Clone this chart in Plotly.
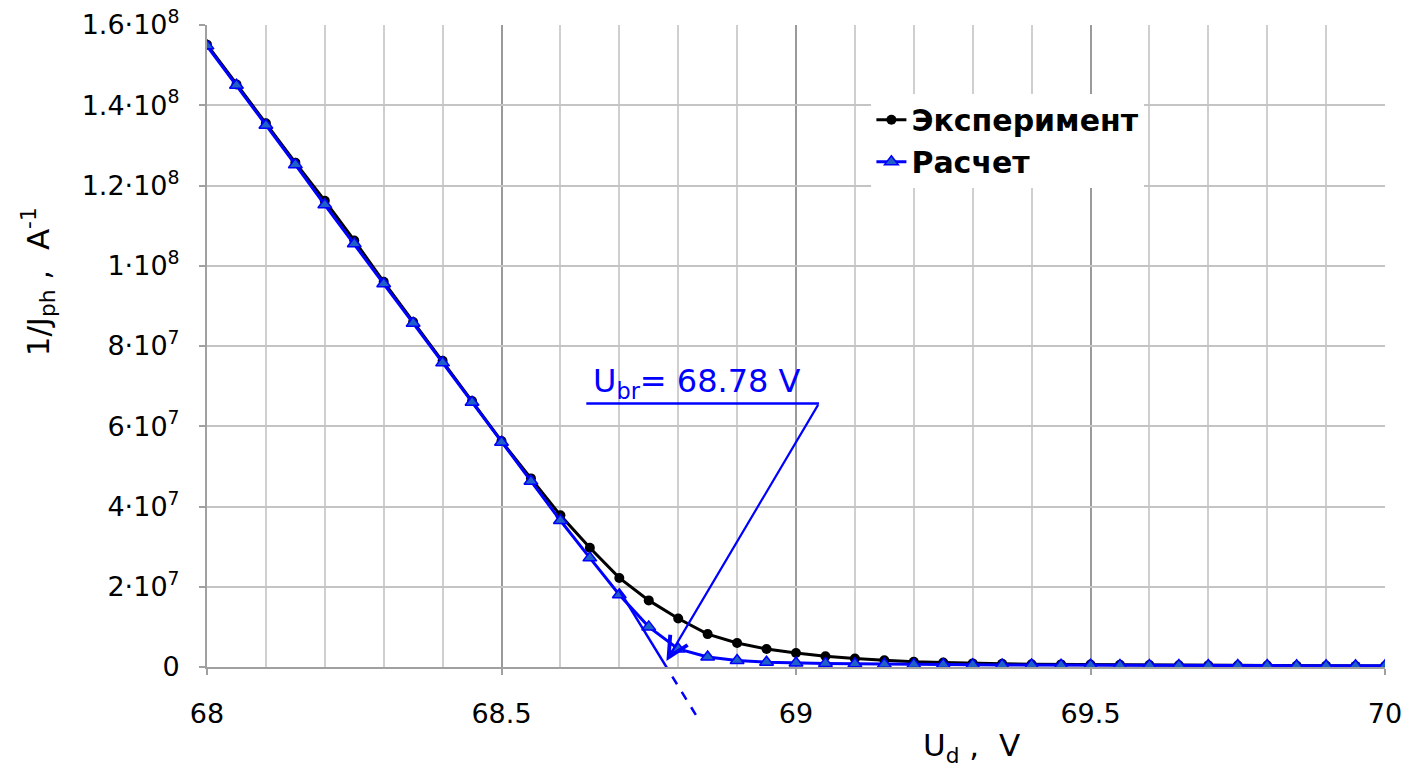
import plotly.graph_objects as go

# ---------------- data ----------------
u_d = [68.00, 68.05, 68.10, 68.15, 68.20, 68.25, 68.30, 68.35, 68.40, 68.45,
       68.50, 68.55, 68.60, 68.65, 68.70, 68.75, 68.80, 68.85, 68.90, 68.95,
       69.00, 69.05, 69.10, 69.15, 69.20, 69.25, 69.30, 69.35, 69.40, 69.45,
       69.50, 69.55, 69.60, 69.65, 69.70, 69.75, 69.80, 69.85, 69.90, 69.95,
       70.00]

# 1/J_ph, A^-1 (in units of 1e7)
experiment_e7 = [15.51, 14.52, 13.55, 12.57, 11.62, 10.63, 9.60, 8.60, 7.63, 6.63,
                 5.63, 4.70, 3.78, 2.97, 2.22, 1.66, 1.21, 0.82, 0.60, 0.45,
                 0.35, 0.27, 0.21, 0.17, 0.13, 0.11, 0.09, 0.08, 0.07, 0.065,
                 0.06, 0.055, 0.05, 0.045, 0.04, 0.038, 0.035, 0.033, 0.03, 0.028,
                 0.025]
calc_e7 = [15.48, 14.50, 13.50, 12.52, 11.52, 10.55, 9.55, 8.57, 7.58, 6.60,
           5.60, 4.63, 3.65, 2.72, 1.80, 1.00, 0.45, 0.25, 0.16, 0.12,
           0.10, 0.09, 0.08, 0.07, 0.065, 0.06, 0.055, 0.05, 0.05, 0.045,
           0.045, 0.04, 0.04, 0.04, 0.035, 0.035, 0.035, 0.03, 0.03, 0.03,
           0.03]
experiment = [v * 1e7 for v in experiment_e7]
calc = [v * 1e7 for v in calc_e7]

series_names = ["Эксперимент", "Расчет"]

x_tick_vals = [68, 68.5, 69, 69.5, 70]
x_tick_text = ["68", "68.5", "69", "69.5", "70"]
y_tick_vals = [0, 2e7, 4e7, 6e7, 8e7, 1e8, 1.2e8, 1.4e8, 1.6e8]
y_tick_text = ["0", "2·10<sup>7</sup>", "4·10<sup>7</sup>", "6·10<sup>7</sup>",
               "8·10<sup>7</sup>", "1·10<sup>8</sup>", "1.2·10<sup>8</sup>",
               "1.4·10<sup>8</sup>", "1.6·10<sup>8</sup>"]

# breakdown-voltage construction
u_br = 68.78
tangent_slope = -2.39e8        # A^-1 per V
tangent_x = [68.70, 68.785]
tangent_dash_x = [68.79, 68.83]
label_pos = (68.832, 7.09e7)
bar_x = [68.644, 69.039]
bar_y = 6.57e7
arrow_tip_y = 0.15e7

X_RANGE = [68, 70]
Y_RANGE = [0, 1.6e8]

FONT = "DejaVu Sans"
BLUE = "#0000ff"

fig = go.Figure()
fig.add_trace(go.Scatter(
    x=u_d, y=experiment, name=series_names[0], mode="lines+markers",
    line=dict(color="black", width=3),
    marker=dict(symbol="circle", size=10, color="black"),
))
fig.add_trace(go.Scatter(
    x=u_d, y=calc, name=series_names[1], mode="lines+markers",
    line=dict(color=BLUE, width=3),
    marker=dict(symbol="triangle-up", size=12, color="#1f5fc8",
                line=dict(color=BLUE, width=1.5)),
))

def tan_y(x):
    return tangent_slope * (x - u_br)

def px(x):
    return (x - X_RANGE[0]) / (X_RANGE[1] - X_RANGE[0])

def py(y):
    return (y - Y_RANGE[0]) / (Y_RANGE[1] - Y_RANGE[0])

shapes = [
    dict(type="line", xref="x", yref="y",
         x0=tangent_x[0], y0=tan_y(tangent_x[0]),
         x1=tangent_x[1], y1=tan_y(tangent_x[1]),
         line=dict(color=BLUE, width=2.5)),
    dict(type="line", xref="paper", yref="paper",
         x0=px(tangent_dash_x[0]), y0=py(tan_y(tangent_dash_x[0])),
         x1=px(tangent_dash_x[1]), y1=py(tan_y(tangent_dash_x[1])),
         line=dict(color=BLUE, width=2.5, dash="dash")),
    dict(type="line", xref="x", yref="y",
         x0=bar_x[0], y0=bar_y, x1=bar_x[1], y1=bar_y,
         line=dict(color=BLUE, width=2.5)),
]

annotations = [
    dict(x=u_br, y=arrow_tip_y, xref="x", yref="y",
         ax=bar_x[1], ay=bar_y, axref="x", ayref="y",
         text="", showarrow=True, arrowhead=5, arrowsize=1.8,
         arrowwidth=2.2, arrowcolor=BLUE),
    dict(x=label_pos[0], y=label_pos[1], xref="x", yref="y",
         xanchor="center", yanchor="middle",
         text="U<sub>br</sub>= 68.78 V", showarrow=False,
         font=dict(family=FONT, size=32, color=BLUE)),
    dict(x=-0.143, y=0.600, xref="paper", yref="paper",
         xanchor="center", yanchor="middle",
         text="1/J<sub>ph</sub> ,  A<sup>-1</sup>", textangle=-90,
         showarrow=False, font=dict(family=FONT, size=31, color="black")),
    dict(x=0.649, y=-0.125, xref="paper", yref="paper",
         xanchor="center", yanchor="middle",
         text="U<sub>d</sub> ,  V", showarrow=False,
         font=dict(family=FONT, size=31, color="black")),
]

fig.update_layout(
    width=1401, height=772,
    margin=dict(l=207, r=16, t=25, b=105, autoexpand=False),
    paper_bgcolor="white", plot_bgcolor="white",
    font=dict(family=FONT, size=27, color="black"),
    showlegend=True,
    legend=dict(x=0.564, y=0.893, xanchor="left", yanchor="top",
                bgcolor="white", borderwidth=0,
                font=dict(family=FONT, size=30, color="black", weight="bold"),
                tracegroupgap=0),
    shapes=shapes,
    annotations=annotations,
)
fig.update_xaxes(
    range=X_RANGE, tickvals=x_tick_vals, ticktext=x_tick_text,
    showgrid=True, gridcolor="#9a9a9a", gridwidth=1.5,
    minor=dict(dtick=0.1, tick0=68, showgrid=True, gridcolor="#cfcfcf", gridwidth=1.5),
    showline=True, linecolor="#a0a0a0", linewidth=2,
    ticks="outside", ticklen=6, tickcolor="#a0a0a0", tickwidth=1.5,
    ticklabelstandoff=16, ticklabeloverflow="allow", automargin=False,
    zeroline=False,
    tickfont=dict(family=FONT, size=27, color="black"),
)
fig.update_yaxes(
    range=Y_RANGE, tickvals=y_tick_vals, ticktext=y_tick_text,
    showgrid=True, gridcolor="#c4c4c4", gridwidth=1.5,
    showline=True, linecolor="#a0a0a0", linewidth=2,
    ticks="outside", ticklen=6, tickcolor="#a0a0a0", tickwidth=1.5,
    ticklabelstandoff=14, automargin=False, zeroline=False,
    tickfont=dict(family=FONT, size=27, color="black"),
)

fig.write_html("out.html")
